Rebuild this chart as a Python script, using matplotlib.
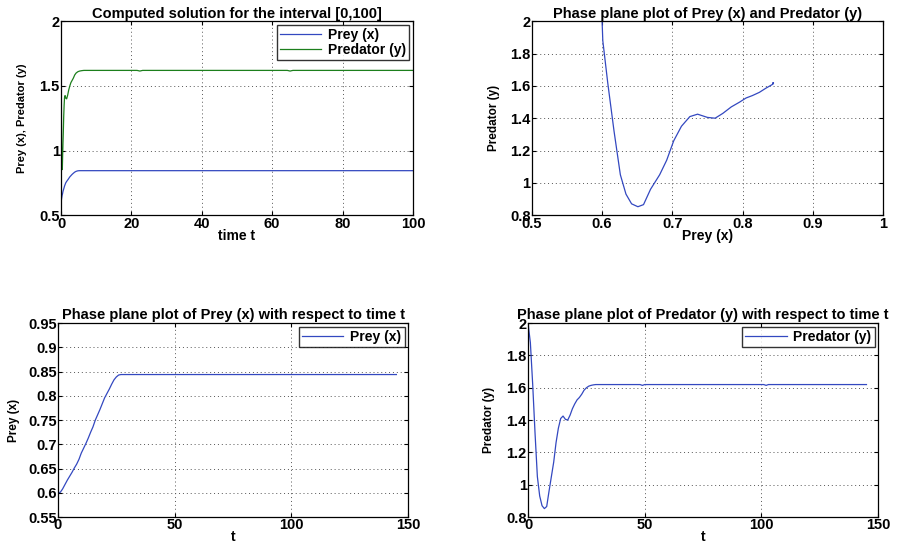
import matplotlib
matplotlib.use("Agg")
import matplotlib.pyplot as plt
from matplotlib.ticker import FuncFormatter

plt.rcParams.update({
    "font.family": ["Liberation Sans", "DejaVu Sans"],
    "font.weight": "bold",
    "axes.labelweight": "bold",
    "axes.titleweight": "bold",
    "xtick.direction": "in",
    "ytick.direction": "in",
    "xtick.top": True,
    "ytick.right": True,
    "axes.linewidth": 0.9,
})

# solver output, sampled at step indices
STEP = [0, 1, 2, 3, 4, 5, 6, 7, 8, 9, 10, 11, 12, 13, 14, 15, 16, 17, 18, 19,
        20, 21, 22, 23, 24, 25, 26, 27, 28, 29, 30, 35, 40, 48, 49, 50, 60, 80,
        100, 101, 102, 103, 120, 145]
# physical time of each step (adaptive step size)
TIME = [0, 0.03, 0.07, 0.11, 0.15, 0.2, 0.25, 0.3, 0.38, 0.46, 0.55, 0.65, 0.76,
        0.88, 1.0, 1.15, 1.35, 1.6, 1.9, 2.2, 2.5, 2.8, 3.1, 3.5, 3.9, 4.3, 4.8,
        5.3, 5.9, 6.5, 7.2, 11.2, 15.2, 21.6, 22.4, 23.2, 31.3, 47.4, 63.5, 64.3,
        65.1, 65.9, 79.8, 100]
PREY = [0.600, 0.601, 0.608, 0.617, 0.626, 0.634, 0.642, 0.651, 0.659, 0.669,
        0.682, 0.692, 0.702, 0.713, 0.725, 0.736, 0.750, 0.761, 0.772, 0.784,
        0.796, 0.805, 0.814, 0.824, 0.833, 0.839, 0.843, 0.844, 0.844, 0.844,
        0.844, 0.844, 0.844, 0.844, 0.844, 0.844, 0.844, 0.844, 0.844, 0.844,
        0.844, 0.844, 0.844, 0.844]
PREDATOR = [2.00, 1.88, 1.62, 1.32, 1.05, 0.93, 0.87, 0.852, 0.865, 0.96, 1.05,
            1.14, 1.26, 1.35, 1.41, 1.425, 1.405, 1.40, 1.43, 1.47, 1.50, 1.525,
            1.54, 1.56, 1.585, 1.60, 1.61, 1.615, 1.618, 1.62, 1.62, 1.62, 1.62,
            1.62, 1.615, 1.62, 1.62, 1.62, 1.62, 1.62, 1.615, 1.62, 1.62, 1.62]

BLUE = "#3348c0"
GREEN = "#1c7f1c"
TICK_FS = 10.5
TITLE_FS = 10.5
XLAB_FS = 10
YLAB_FS = 8.5


def _style(ax, xlim, ylim, xticks, yticks):
    ax.set_xlim(*xlim); ax.set_ylim(*ylim)
    ax.set_xticks(xticks); ax.set_yticks(yticks)
    fmt = FuncFormatter(lambda v, p: f"{v:g}")
    ax.xaxis.set_major_formatter(fmt); ax.yaxis.set_major_formatter(fmt)
    ax.tick_params(labelsize=TICK_FS, length=3, width=0.8, pad=1)
    ax.grid(True, ls=(0, (1, 3)), color="#555555", lw=0.7)
    for lab in ax.get_xticklabels() + ax.get_yticklabels():
        lab.set_fontweight("bold")


def _legend(ax):
    leg = ax.legend(loc="upper right", fontsize=10, frameon=True, fancybox=False,
                    borderaxespad=0.25, handlelength=3.0, borderpad=0.22,
                    labelspacing=0.1, handletextpad=0.5)
    leg.get_frame().set_edgecolor("black")
    leg.get_frame().set_linewidth(1.0)


fig = plt.figure(figsize=(9, 5.46), dpi=100)

ax1 = fig.add_axes([0.0678, 0.606, 0.391, 0.355])
ax1.plot(TIME, PREY, color=BLUE, lw=0.9, label="Prey (x)")
ax1.plot(TIME, PREDATOR, color=GREEN, lw=0.9, label="Predator (y)")
_style(ax1, (0, 100), (0.5, 2), [0, 20, 40, 60, 80, 100], [0.5, 1, 1.5, 2])
ax1.set_title("Computed solution for the interval [0,100]", fontsize=TITLE_FS, pad=2)
ax1.set_xlabel("time t", fontsize=XLAB_FS, labelpad=-1)
ax1.set_ylabel("Prey (x), Predator (y)", fontsize=8, labelpad=9)
_legend(ax1)

ax2 = fig.add_axes([0.591, 0.606, 0.39, 0.355])
ax2.plot(PREY, PREDATOR, color=BLUE, lw=0.9)
_style(ax2, (0.5, 1), (0.8, 2), [0.5, 0.6, 0.7, 0.8, 0.9, 1], [0.8, 1, 1.2, 1.4, 1.6, 1.8, 2])
ax2.set_title("Phase plane plot of Prey (x) and Predator (y)", fontsize=TITLE_FS, pad=2)
ax2.set_xlabel("Prey (x)", fontsize=XLAB_FS, labelpad=-1)
ax2.set_ylabel("Predator (y)", fontsize=YLAB_FS, labelpad=7)

ax3 = fig.add_axes([0.0644, 0.0531, 0.389, 0.355])
ax3.plot(STEP, PREY, color=BLUE, lw=0.9, label="Prey (x)")
_style(ax3, (0, 150), (0.55, 0.95), [0, 50, 100, 150],
       [0.55, 0.6, 0.65, 0.7, 0.75, 0.8, 0.85, 0.9, 0.95])
ax3.set_title("Phase plane plot of Prey (x) with respect to time t", fontsize=TITLE_FS, pad=3)
ax3.set_xlabel("t", fontsize=XLAB_FS, labelpad=-2)
ax3.set_ylabel("Prey (x)", fontsize=YLAB_FS, labelpad=6)
_legend(ax3)

ax4 = fig.add_axes([0.5867, 0.0531, 0.389, 0.355])
ax4.plot(STEP, PREDATOR, color=BLUE, lw=0.9, label="Predator (y)")
_style(ax4, (0, 150), (0.8, 2), [0, 50, 100, 150], [0.8, 1, 1.2, 1.4, 1.6, 1.8, 2])
ax4.set_title("Phase plane plot of Predator (y) with respect to time t", fontsize=TITLE_FS, pad=3)
ax4.set_xlabel("t", fontsize=XLAB_FS, labelpad=-2)
ax4.set_ylabel("Predator (y)", fontsize=YLAB_FS, labelpad=8)
_legend(ax4)

fig.savefig("out.png", dpi=100)
